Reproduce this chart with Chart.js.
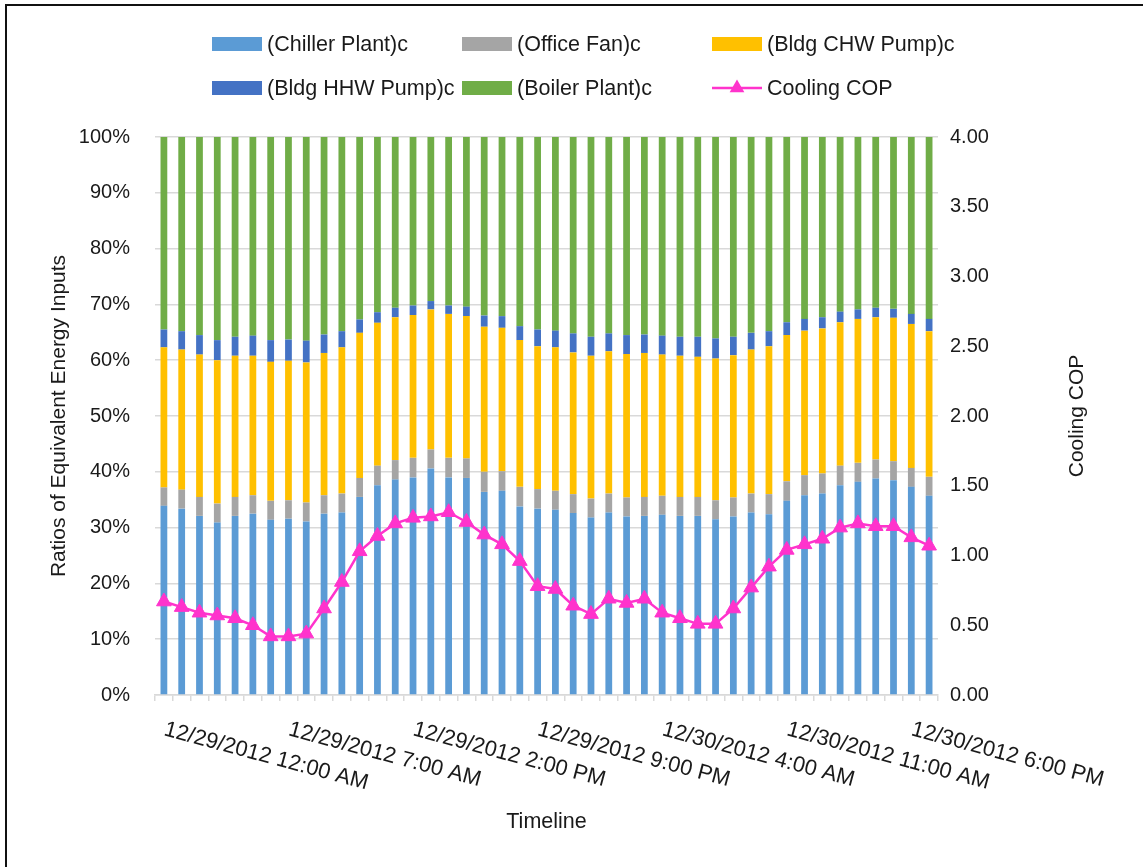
<!DOCTYPE html>
<html><head><meta charset="utf-8">
<script src="https://cdn.jsdelivr.net/npm/chart.js@4.4.0/dist/chart.umd.min.js"></script>
<style>html,body{margin:0;padding:0;background:#fff;}#wrap{position:relative;width:1143px;height:867px;}</style>
</head><body><div id="wrap"><canvas id="c" width="1143" height="867"></canvas></div>
<script>
const categories = [
"12/29/2012 12:00 AM","12/29/2012 1:00 AM","12/29/2012 2:00 AM","12/29/2012 3:00 AM","12/29/2012 4:00 AM","12/29/2012 5:00 AM",
"12/29/2012 6:00 AM","12/29/2012 7:00 AM","12/29/2012 8:00 AM","12/29/2012 9:00 AM","12/29/2012 10:00 AM","12/29/2012 11:00 AM",
"12/29/2012 12:00 PM","12/29/2012 1:00 PM","12/29/2012 2:00 PM","12/29/2012 3:00 PM","12/29/2012 4:00 PM","12/29/2012 5:00 PM",
"12/29/2012 6:00 PM","12/29/2012 7:00 PM","12/29/2012 8:00 PM","12/29/2012 9:00 PM","12/29/2012 10:00 PM","12/29/2012 11:00 PM",
"12/30/2012 12:00 AM","12/30/2012 1:00 AM","12/30/2012 2:00 AM","12/30/2012 3:00 AM","12/30/2012 4:00 AM","12/30/2012 5:00 AM",
"12/30/2012 6:00 AM","12/30/2012 7:00 AM","12/30/2012 8:00 AM","12/30/2012 9:00 AM","12/30/2012 10:00 AM","12/30/2012 11:00 AM",
"12/30/2012 12:00 PM","12/30/2012 1:00 PM","12/30/2012 2:00 PM","12/30/2012 3:00 PM","12/30/2012 4:00 PM","12/30/2012 5:00 PM",
"12/30/2012 6:00 PM","12/30/2012 7:00 PM"];
const chillerPlant = [33.9,33.4,32.1,30.9,32.1,32.5,31.4,31.6,31.1,32.5,32.7,35.5,37.6,38.6,39.0,40.6,39.0,38.9,36.4,36.6,33.8,33.4,33.2,32.6,31.8,32.7,32.0,32.1,32.3,32.1,32.1,31.5,32.0,32.7,32.4,34.8,35.8,36.1,37.6,38.2,38.8,38.5,37.3,35.7];
const officeFan = [3.3,3.4,3.4,3.4,3.4,3.3,3.4,3.3,3.4,3.3,3.4,3.4,3.5,3.5,3.5,3.4,3.5,3.5,3.6,3.5,3.5,3.5,3.4,3.4,3.4,3.4,3.4,3.4,3.4,3.4,3.4,3.4,3.4,3.4,3.6,3.5,3.6,3.6,3.5,3.4,3.4,3.4,3.4,3.4];
const bldgChwPump = [25.1,25.1,25.5,25.7,25.3,25.0,24.9,25.0,25.1,25.5,26.2,26.0,25.6,25.6,25.6,25.1,25.8,25.5,26.0,25.7,26.3,25.6,25.7,25.4,25.6,25.5,25.7,25.8,25.3,25.3,25.1,25.4,25.5,25.8,26.5,26.2,25.9,26.0,25.7,25.8,25.5,25.7,25.8,26.1];
const bldgHhwPump = [3.2,3.3,3.5,3.6,3.4,3.6,3.9,3.8,3.9,3.3,2.9,2.4,1.9,1.7,1.7,1.5,1.5,1.7,2.0,2.1,2.5,3.0,3.0,3.4,3.4,3.2,3.4,3.3,3.4,3.4,3.6,3.6,3.3,3.0,2.7,2.3,2.1,2.0,1.9,1.7,1.7,1.6,1.8,2.2];
const boilerPlant = [34.5,34.8,35.5,36.4,35.8,35.6,36.4,36.3,36.5,35.4,34.8,32.7,31.4,30.6,30.2,29.4,30.2,30.4,32.0,32.1,33.9,34.5,34.7,35.2,35.8,35.2,35.5,35.4,35.6,35.8,35.8,36.1,35.8,35.1,34.8,33.2,32.6,32.3,31.3,30.9,30.6,30.8,31.7,32.6];
const coolingCOP = [0.67,0.63,0.59,0.57,0.55,0.50,0.42,0.42,0.44,0.62,0.81,1.03,1.14,1.23,1.27,1.28,1.31,1.24,1.15,1.08,0.96,0.78,0.76,0.64,0.58,0.69,0.66,0.69,0.59,0.55,0.51,0.51,0.62,0.77,0.92,1.04,1.08,1.12,1.20,1.23,1.21,1.21,1.13,1.07];
const xLabelEvery = 7;

const FAMILY = "'Liberation Sans', Arial, sans-serif";
const TXT = '#1a1a1a';
const GRID = '#d9d9d9';

const overlay = {
  id: 'overlay',
  afterDraw(chart) {
    const ctx = chart.ctx;
    const xs = chart.scales.x;
    ctx.save();
    ctx.fillStyle = TXT;
    ctx.font = '22px ' + FAMILY;
    ctx.textAlign = 'left';
    ctx.textBaseline = 'alphabetic';
    chart.data.labels.forEach((lab, i) => {
      if (i % xLabelEvery !== 0) return;
      const x = xs.getPixelForValue(i);
      ctx.save();
      ctx.translate(x - 1, 735);
      ctx.rotate(15 * Math.PI / 180);
      ctx.fillText(lab, 0, 0);
      ctx.restore();
    });
    const ca = chart.chartArea;
    ctx.save();
    ctx.font = '21px ' + FAMILY;
    ctx.textAlign = 'center';
    ctx.textBaseline = 'middle';
    ctx.translate(1077, (ca.top + ca.bottom) / 2);
    ctx.rotate(-Math.PI / 2);
    ctx.fillText('Cooling COP', 0, 0);
    ctx.restore();
    const pos = [[212,44],[462,44],[712,44],[212,88],[462,88],[712,88]];
    ctx.font = '21.5px ' + FAMILY;
    ctx.textAlign = 'left';
    ctx.textBaseline = 'middle';
    chart.data.datasets.forEach((ds, i) => {
      const [px, py] = pos[i];
      if (ds.type === 'line') {
        ctx.strokeStyle = ds.borderColor;
        ctx.lineWidth = 2.5;
        ctx.beginPath(); ctx.moveTo(px, py); ctx.lineTo(px + 50, py); ctx.stroke();
        const cx = px + 25, r = 8.5;
        ctx.fillStyle = ds.borderColor;
        ctx.beginPath();
        ctx.moveTo(cx, py - r);
        ctx.lineTo(cx + r * 0.866, py + r / 2);
        ctx.lineTo(cx - r * 0.866, py + r / 2);
        ctx.closePath(); ctx.fill();
      } else {
        ctx.fillStyle = ds.backgroundColor;
        ctx.fillRect(px, py - 7, 50, 14);
      }
      ctx.fillStyle = TXT;
      ctx.fillText(ds.label, px + 55, py + 1);
    });
    ctx.strokeStyle = '#111';
    ctx.lineWidth = 2;
    ctx.strokeRect(6, 5, 1160, 900);
    ctx.restore();
  }
};

new Chart(document.getElementById('c'), {
  type: 'bar',
  data: {
    labels: categories,
    datasets: [
      {label: '(Chiller Plant)c', data: chillerPlant, backgroundColor: '#5B9BD5', yAxisID: 'y', order: 1},
      {label: '(Office Fan)c', data: officeFan, backgroundColor: '#A5A5A5', yAxisID: 'y', order: 1},
      {label: '(Bldg CHW Pump)c', data: bldgChwPump, backgroundColor: '#FFC000', yAxisID: 'y', order: 1},
      {label: '(Bldg HHW Pump)c', data: bldgHhwPump, backgroundColor: '#4472C4', yAxisID: 'y', order: 1},
      {label: '(Boiler Plant)c', data: boilerPlant, backgroundColor: '#70AD47', yAxisID: 'y', order: 1},
      {type: 'line', label: 'Cooling COP', data: coolingCOP, yAxisID: 'y1', order: 0,
       borderColor: '#FF33CC', backgroundColor: '#FF33CC', borderWidth: 2.5, tension: 0,
       pointStyle: 'triangle', pointRadius: 8.5, pointBackgroundColor: '#FF33CC', pointBorderColor: '#FF33CC', pointBorderWidth: 1}
    ]
  },
  options: {
    responsive: false, animation: false, devicePixelRatio: 1,
    layout: {padding: {top: 137, left: 0, right: 0, bottom: 0}},
    plugins: {legend: {display: false}, tooltip: {enabled: false}},
    datasets: {bar: {categoryPercentage: 1, barPercentage: 0.38, borderWidth: 0}},
    scales: {
      x: {
        stacked: true, offset: true,
        grid: {display: true, offset: true, drawOnChartArea: false, drawTicks: true, tickLength: 6, color: GRID, lineWidth: 1.5},
        border: {display: true, color: GRID, width: 1.5},
        ticks: {display: false},
        title: {display: true, text: 'Timeline', color: TXT, font: {family: FAMILY, size: 21.5}, padding: {top: 0, bottom: 32}},
        afterFit(s) { s.height = 172; }
      },
      y: {
        stacked: true, min: 0, max: 100,
        ticks: {stepSize: 10, callback: v => v + '%', color: TXT, font: {family: FAMILY, size: 20}, padding: 25},
        grid: {color: GRID, lineWidth: 1.5, drawTicks: false},
        border: {display: false},
        title: {display: true, text: 'Ratios of Equivalent Energy Inputs', color: TXT, font: {family: FAMILY, size: 21}, padding: {top: 47, bottom: 0}},
        afterFit(s) { s.width = 155; }
      },
      y1: {
        position: 'right', min: 0, max: 4,
        ticks: {stepSize: 0.5, callback: v => Number(v).toFixed(2), color: TXT, font: {family: FAMILY, size: 20}, padding: 12},
        grid: {display: false, drawTicks: false},
        border: {display: false},
        afterFit(s) { s.width = 205; }
      }
    }
  },
  plugins: [overlay]
});
</script></body></html>
